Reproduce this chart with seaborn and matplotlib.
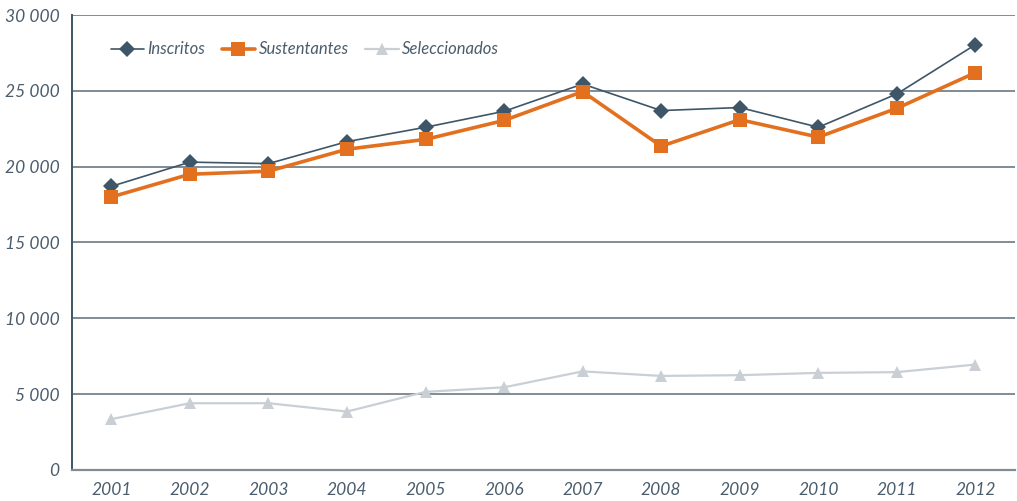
import matplotlib
matplotlib.use("Agg")
import matplotlib.pyplot as plt
from matplotlib.ticker import FixedLocator, FuncFormatter
import seaborn as sns
import pandas as pd

years = ["2001", "2002", "2003", "2004", "2005", "2006",
         "2007", "2008", "2009", "2010", "2011", "2012"]
inscritos = [18700, 20300, 20200, 21650, 22600, 23650,
             25450, 23700, 23900, 22600, 24800, 28050]
sustentantes = [18000, 19500, 19700, 21150, 21800, 23050,
                24950, 21350, 23100, 21950, 23850, 26200]
seleccionados = [3350, 4400, 4400, 3850, 5150, 5450,
                 6500, 6200, 6250, 6400, 6450, 6950]
y_ticks = [0, 5000, 10000, 15000, 20000, 25000, 30000]

df = pd.DataFrame({"year": years, "Inscritos": inscritos,
                   "Sustentantes": sustentantes, "Seleccionados": seleccionados})

sns.set_theme(style="white")
plt.rcParams["font.family"] = ["Lato", "DejaVu Sans"]

text_color = "#4b5d6c"
grid_color = "#7f8c96"
series = [
    ("Inscritos", "#3e5667", "D", 8, 1.2),
    ("Sustentantes", "#e2701f", "s", 9.5, 2.6),
    ("Seleccionados", "#c9cfd5", "^", 9, 1.6),
]

fig = plt.figure(figsize=(10.17, 5.01), dpi=100)
ax = fig.add_axes([0.0708, 0.062, 0.927, 0.908])

for name, color, marker, ms, lw in series:
    sns.lineplot(data=df, x="year", y=name, ax=ax, color=color, marker=marker,
                 markersize=ms, markeredgewidth=0, linewidth=lw, label=name,
                 sort=False)

ax.set_xlim(-0.5, len(years) - 0.5)
ax.set_ylim(0, 30000)
ax.set_xlabel("")
ax.set_ylabel("")

ax.yaxis.set_major_locator(FixedLocator(y_ticks))
ax.yaxis.set_major_formatter(FuncFormatter(lambda v, p: f"{int(v):,}".replace(",", " ")))
ax.grid(axis="y", color=grid_color, linewidth=1.4)
ax.set_axisbelow(True)

# year labels sit between tick marks placed on the category boundaries
ax.xaxis.set_minor_locator(FixedLocator([i - 0.5 for i in range(len(years) + 1)]))
ax.tick_params(axis="x", which="major", length=0, pad=9, labelsize=12.5, labelcolor=text_color)
ax.tick_params(axis="x", which="minor", length=9, width=1.4, color=grid_color, direction="out")
ax.tick_params(axis="y", which="major", length=6, width=1.2, color=text_color,
               direction="out", pad=3, labelsize=12.5, labelcolor=text_color)
for lab in ax.get_xticklabels() + ax.get_yticklabels():
    lab.set_fontstyle("italic")

for side in ["top", "right"]:
    ax.spines[side].set_visible(False)
ax.spines["left"].set_color("#3e5667")
ax.spines["left"].set_linewidth(1.4)
ax.spines["bottom"].set_color(grid_color)
ax.spines["bottom"].set_linewidth(1.6)

leg = ax.legend(loc="upper left", bbox_to_anchor=(0.025, 0.975), ncol=3, frameon=False,
                handlelength=2.0, columnspacing=1.0, handletextpad=0.2,
                prop={"style": "italic", "size": 12})
for t in leg.get_texts():
    t.set_color(text_color)

fig.savefig("out.png", dpi=100)
